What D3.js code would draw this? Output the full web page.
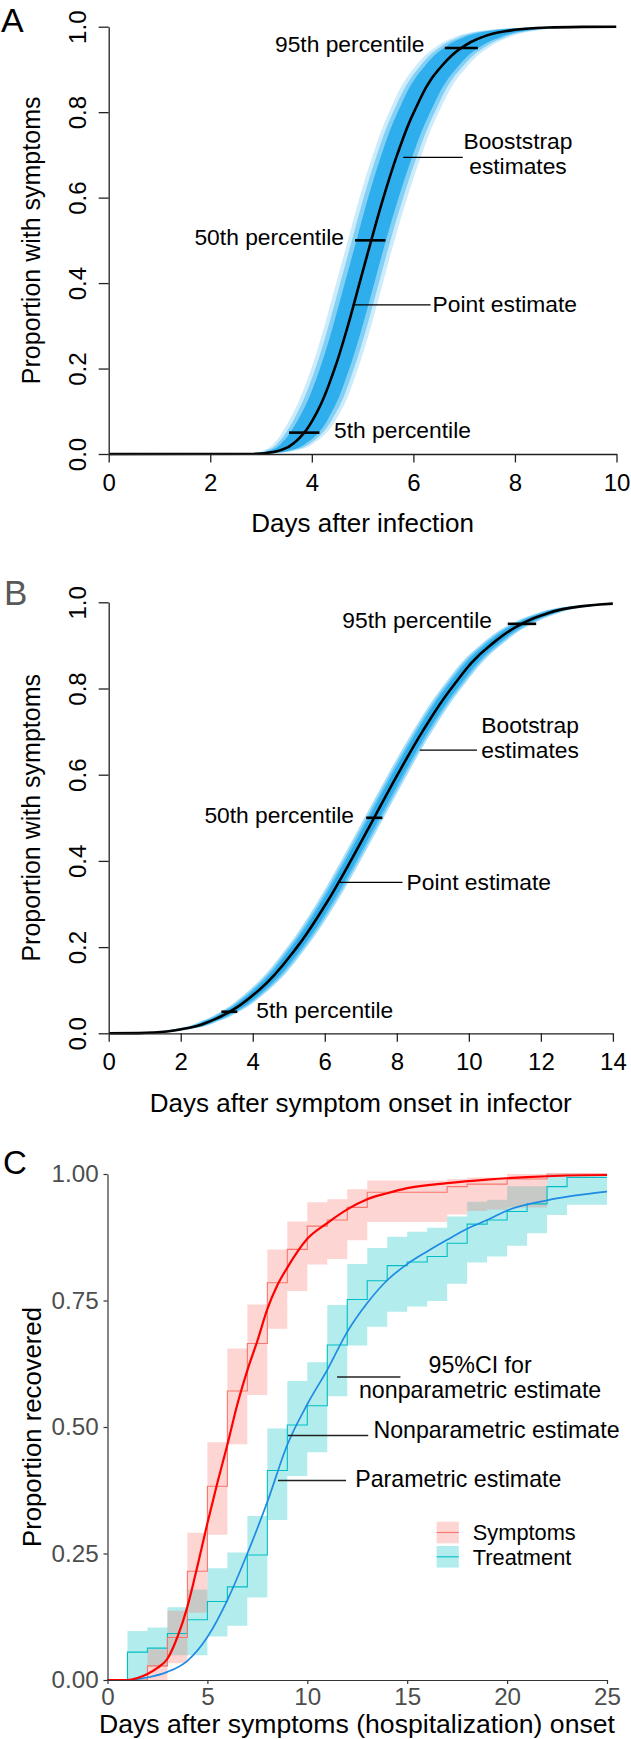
<!DOCTYPE html>
<html><head><meta charset="utf-8">
<script src="https://cdn.jsdelivr.net/npm/d3@7/dist/d3.min.js"></script>
<style>
body{margin:0;background:#fff}
svg{display:block}
text{font-family:"Liberation Sans",Arial,Helvetica,sans-serif}
</style>
</head><body>
<svg id="chart" width="631" height="1739"></svg>
<script>
// ================= DATA =================
// Panel A : incubation period (quantiles of the point-estimate CDF)
const aProb  = [0.0005,0.002,0.01,0.03,0.05,0.1,0.2,0.3,0.4,0.5,0.6,0.7,0.8,0.9,0.95,0.97,0.99,0.998,0.9995];
const aQuant = [2.87,3.09,3.41,3.69,3.85,4.11,4.45,4.71,4.94,5.17,5.41,5.68,6.01,6.50,6.94,7.24,7.84,8.65,9.32];
// half-width (days) of the bootstrap envelope at each probability
const aBandOuter = [0.16,0.24,0.34,0.40,0.44,0.46,0.46,0.46,0.46,0.46,0.47,0.48,0.49,0.51,0.53,0.54,0.54,0.44,0.30];
const aBandMid   = [0.12,0.18,0.27,0.33,0.36,0.38,0.38,0.38,0.38,0.38,0.39,0.40,0.41,0.42,0.44,0.45,0.45,0.36,0.24];
const aBandCore  = [0.08,0.13,0.20,0.25,0.28,0.29,0.29,0.29,0.29,0.29,0.30,0.31,0.32,0.33,0.34,0.35,0.35,0.28,0.18];
const aPctProb = [0.05,0.5,0.95];
const aPctLo   = [3.55,4.85,6.62];
const aPctHi   = [4.15,5.45,7.27];
const aXTicks  = [0,2,4,6,8,10];
const yTicksAB = [0,0.2,0.4,0.6,0.8,1.0];

// Panel B : serial interval
const bProb  = [0.0005,0.002,0.01,0.03,0.05,0.1,0.2,0.3,0.4,0.5,0.6,0.7,0.8,0.9,0.95,0.97,0.99,0.995,0.997];
const bQuant = [0.83,1.26,2.05,2.87,3.36,4.17,5.23,6.03,6.72,7.37,8.02,8.71,9.51,10.59,11.47,12.03,13.06,13.63,14.0];
const bBandOuter = [0.16,0.19,0.22,0.25,0.26,0.27,0.27,0.27,0.27,0.27,0.27,0.27,0.28,0.29,0.30,0.30,0.30,0.30,0.30];
const bBandMid   = [0.12,0.14,0.17,0.19,0.20,0.21,0.21,0.21,0.21,0.21,0.21,0.21,0.22,0.23,0.23,0.23,0.23,0.23,0.23];
const bBandCore  = [0.08,0.10,0.12,0.14,0.15,0.15,0.15,0.15,0.15,0.15,0.15,0.15,0.16,0.16,0.17,0.17,0.17,0.17,0.17];
const bPctProb = [0.05,0.5,0.95];
const bPctLo   = [3.13,7.15,11.08];
const bPctHi   = [3.57,7.60,11.87];
const bXTicks  = [0,2,4,6,8,10,12,14];

// Panel C : recovery (Kaplan-Meier steps, 95% CI, parametric fits)
const symDays = [2,3,4,5,6,7,8,9,10,11,12,13,17,18,19,20,22];
const symEst  = [0.028,0.084,0.215,0.383,0.571,0.665,0.785,0.851,0.897,0.909,0.934,0.964,0.975,0.980,0.980,0.990,1.000];
const symLo   = [0.000,0.033,0.133,0.287,0.466,0.563,0.694,0.769,0.821,0.832,0.869,0.905,0.920,0.927,0.930,0.934,1.000];
const symHi   = [0.061,0.137,0.291,0.470,0.655,0.742,0.851,0.906,0.944,0.950,0.970,0.987,0.990,0.993,0.993,1.000,1.000];

const trtDays = [1,2,3,4,5,6,7,8,9,10,11,12,13,14,15,16,17,18,19,20,21,22,23];
const trtEst  = [0.055,0.063,0.092,0.119,0.155,0.184,0.247,0.414,0.504,0.542,0.662,0.752,0.789,0.819,0.826,0.837,0.863,0.901,0.909,0.926,0.941,0.975,0.993];
const trtLo   = [0.000,0.026,0.049,0.049,0.086,0.107,0.163,0.316,0.403,0.450,0.561,0.661,0.698,0.728,0.738,0.749,0.783,0.825,0.837,0.858,0.883,0.919,0.939];
const trtHi   = [0.097,0.104,0.144,0.179,0.221,0.252,0.324,0.497,0.591,0.628,0.741,0.822,0.854,0.876,0.886,0.894,0.916,0.945,0.949,0.976,0.976,1.000,1.000];

const symFitDays = [0,1,1.5,2,2.5,3,3.5,4,4.5,5,5.5,6,6.5,7,7.5,8,8.5,9,10,11,12,13,14,15,17,19,21,23,25];
const symFitVal  = [0,0,0.004,0.012,0.024,0.042,0.085,0.145,0.225,0.310,0.390,0.465,0.545,0.612,0.670,0.733,0.780,0.815,0.872,0.903,0.930,0.950,0.962,0.972,0.982,0.989,0.994,0.997,0.998];
const trtFitDays = [0,1,2,3,4,5,6,7,8,9,10,11,12,13,14,15,16,17,18,19,20,22,25];
const trtFitVal  = [0,0,0.005,0.016,0.038,0.085,0.158,0.250,0.352,0.465,0.545,0.613,0.688,0.745,0.790,0.822,0.847,0.870,0.892,0.909,0.928,0.948,0.965];

const cXTicks = [0,5,10,15,20,25];
const cYTicks = [0,0.25,0.5,0.75,1.0];
const groups  = ["Symptoms","Treatment"];

// ================= DRAWING =================
const svg = d3.select("#chart");
const FONT = '"Liberation Sans", Arial, Helvetica, sans-serif';

function rPanel(o){
  const g = svg.append("g");
  const x = d3.scaleLinear().domain([0,o.xmax]).range(o.xr);
  const y = d3.scaleLinear().domain([0,1]).range(o.yr);
  const cid = "clip"+o.id;
  svg.append("clipPath").attr("id",cid).append("rect")
    .attr("x",x(0)).attr("y",y(1)-4).attr("width",x(o.xmax)-x(0)).attr("height",y(0)-y(1)+8);
  const pts = o.prob.map((p,i)=>({p, q:o.quant[i]}));
  const bands = g.append("g").attr("clip-path",`url(#${cid})`);
  o.bands.forEach(b=>{
    const area = d3.area().curve(d3.curveMonotoneY)
      .y(d=>y(d.p))
      .x0((d,i)=>x(d.q - b.s[i]))
      .x1((d,i)=>x(d.q + b.s[i]));
    bands.append("path").datum(pts).attr("d",area).attr("fill",b.c).attr("stroke","none");
  });
  // point estimate
  const linePts = [[0,0]].concat(pts.map(d=>[d.q,d.p]));
  if (o.endPt) linePts.push(o.endPt);
  const line = d3.line().curve(d3.curveMonotoneY).x(d=>x(d[0])).y(d=>y(d[1]));
  bands.append("path").datum(linePts).attr("d",line).attr("fill","none")
    .attr("stroke","#000").attr("stroke-width",2.6);
  // percentile marks
  g.selectAll(null).data(o.pctProb).enter().append("line")
    .attr("x1",(d,i)=>x(o.pctLo[i])).attr("x2",(d,i)=>x(o.pctHi[i]))
    .attr("y1",d=>y(d)).attr("y2",d=>y(d))
    .attr("stroke","#000").attr("stroke-width",2.6);
  // axes
  const ax = g.append("g").attr("transform",`translate(0,${y(0)})`)
    .call(d3.axisBottom(x).tickValues(o.xticks).tickFormat(d3.format("d")).tickSize(8.5).tickSizeOuter(0).tickPadding(11.2));
  const ay = g.append("g").attr("transform",`translate(${x(0)},0)`)
    .call(d3.axisLeft(y).tickValues(yTicksAB).tickFormat(d3.format(".1f")).tickSize(10).tickSizeOuter(0));
  [ax,ay].forEach(a=>{
    a.select(".domain").attr("stroke","#222").attr("stroke-width",1.3);
    a.selectAll(".tick line").attr("stroke","#222").attr("stroke-width",1.3);
    a.selectAll("text").attr("fill","#000").style("font-family",FONT).style("font-size","24px");
  });
  ay.selectAll(".tick text").attr("x",null).attr("dy",null).attr("text-anchor","middle")
    .attr("transform",`translate(${86-x(0)},0) rotate(-90)`);
  // titles
  g.append("text").attr("x",(o.xr[0]+o.xr[1])/2).attr("y",o.xTitleY).attr("text-anchor","middle")
    .style("font-size","26px").text(o.xTitle);
  g.append("text").attr("transform",`translate(40,${(o.yr[0]+o.yr[1])/2}) rotate(-90)`).attr("text-anchor","middle")
    .style("font-size","25px").text("Proportion with symptoms");
  // annotations
  o.notes.forEach(n=>{
    g.append("text").attr("x",x(n.x)).attr("y",y(n.y)).attr("text-anchor",n.a||"start")
      .style("font-size","22.8px").attr("fill","#000").text(n.t);
  });
  o.leaders.forEach(l=>{
    g.append("line").attr("x1",x(l[0])).attr("x2",x(l[1])).attr("y1",y(l[2])).attr("y2",y(l[2]))
      .attr("stroke","#000").attr("stroke-width",1.3);
  });
  g.append("text").attr("x",o.lab[0]).attr("y",o.lab[1]).style("font-size",o.labSize)
    .attr("fill",o.labColor).text(o.label);
}

rPanel({
  id:"A", xmax:10, xr:[108.7,616.5], yr:[454,26.7], prob:aProb, quant:aQuant, endPt:[10,1],
  bands:[{s:aBandOuter,c:"#cdecfb"},{s:aBandMid,c:"#84d0f5"},{s:aBandCore,c:"#2eaeec"}],
  pctProb:aPctProb, pctLo:aPctLo, pctHi:aPctHi, xticks:aXTicks,
  xTitle:"Days after infection", xTitleY:531.7,
  notes:[
    {t:"95th percentile", x:6.22, y:0.941, a:"end"},
    {t:"50th percentile", x:4.634, y:0.489, a:"end"},
    {t:"5th percentile", x:4.437, y:0.0374},
    {t:"Booststrap", x:8.06, y:0.714, a:"middle"},
    {t:"estimates", x:8.06, y:0.655, a:"middle"},
    {t:"Point estimate", x:6.378, y:0.333}
  ],
  leaders:[[5.80,6.973,0.694],[4.83,6.339,0.349]],
  label:"A", lab:[1,31.5], labSize:"34px", labColor:"#000"
});

rPanel({
  id:"B", xmax:14, xr:[108.7,612.9], yr:[1033.3,602.3], prob:bProb, quant:bQuant, endPt:null,
  bands:[{s:bBandOuter,c:"#aadff8"},{s:bBandMid,c:"#66c5f2"},{s:bBandCore,c:"#2eaeec"}],
  pctProb:bPctProb, pctLo:bPctLo, pctHi:bPctHi, xticks:bXTicks,
  xTitle:"Days after symptom onset in infector", xTitleY:1111.7,
  notes:[
    {t:"95th percentile", x:10.64, y:0.9397, a:"end"},
    {t:"50th percentile", x:6.81, y:0.488, a:"end"},
    {t:"5th percentile", x:4.10, y:0.0355},
    {t:"Bootstrap", x:11.70, y:0.6968, a:"middle"},
    {t:"estimates", x:11.70, y:0.6387, a:"middle"},
    {t:"Point estimate", x:8.27, y:0.3325}
  ],
  leaders:[[8.636,10.225,0.657],[6.368,8.156,0.3503]],
  label:"B", lab:[4,605], labSize:"35px", labColor:"#595959"
});

// ---------- Panel C ----------
(function(){
  const g = svg.append("g");
  const x = d3.scaleLinear().domain([0,25]).range([107.5,607]);
  const y = d3.scaleLinear().domain([0,1]).range([1680,1174]);
  const col = {Symptoms:"#F8766D", Treatment:"#00BFC4"};
  const fitCol = {Symptoms:"#FF0000", Treatment:"#1E8AE3"};
  const series = {
    Symptoms:{d:symDays,e:symEst,lo:symLo,hi:symHi,fd:symFitDays,fv:symFitVal},
    Treatment:{d:trtDays,e:trtEst,lo:trtLo,hi:trtHi,fd:trtFitDays,fv:trtFitVal}
  };
  function rows(s){
    const r = s.d.map((t,i)=>({t,e:s.e[i],lo:s.lo[i],hi:s.hi[i]}));
    const last = r[r.length-1];
    r.push({t:25,e:last.e,lo:last.lo,hi:last.hi});
    return r;
  }
  const area = d3.area().curve(d3.curveStepAfter).x(d=>x(d.t)).y0(d=>y(d.lo)).y1(d=>y(d.hi));
  ["Treatment","Symptoms"].forEach(k=>{
    g.append("path").datum(rows(series[k])).attr("d",area)
      .attr("fill",col[k]).attr("fill-opacity",0.3).attr("stroke","none");
  });
  const step = d3.line().curve(d3.curveStepAfter).x(d=>x(d.t)).y(d=>y(d.e));
  ["Treatment","Symptoms"].forEach(k=>{
    const r = [{t:0,e:0}].concat(rows(series[k]));
    g.append("path").datum(r).attr("d",step).attr("fill","none")
      .attr("stroke",col[k]).attr("stroke-width",1.1);
  });
  const fit = d3.line().curve(d3.curveMonotoneX).x(d=>x(d[0])).y(d=>y(d[1]));
  ["Treatment","Symptoms"].forEach(k=>{
    const s = series[k];
    g.append("path").datum(s.fd.map((t,i)=>[t,s.fv[i]])).attr("d",fit).attr("fill","none")
      .attr("stroke",fitCol[k]).attr("stroke-width",k==="Symptoms"?2.2:1.7);
  });
  // axes
  const ax = g.append("g").attr("transform",`translate(0,${y(0)})`)
    .call(d3.axisBottom(x).tickValues(cXTicks).tickFormat(d3.format("d")).tickSize(4).tickSizeOuter(0).tickPadding(4));
  const ay = g.append("g").attr("transform",`translate(${x(0)},0)`)
    .call(d3.axisLeft(y).tickValues(cYTicks).tickFormat(d3.format(".2f")).tickSize(4).tickSizeOuter(0).tickPadding(4.9));
  [ax,ay].forEach(a=>{
    a.select(".domain").attr("stroke","#333").attr("stroke-width",1.2);
    a.selectAll(".tick line").attr("stroke","#333").attr("stroke-width",1.2);
    a.selectAll("text").attr("fill","#4D4D4D").style("font-family",FONT).style("font-size","24.2px");
  });
  g.append("text").attr("x",357).attr("y",1733).attr("text-anchor","middle")
    .style("font-size","26.6px").text("Days after symptoms (hospitalization) onset");
  g.append("text").attr("transform",`translate(41,1427) rotate(-90)`).attr("text-anchor","middle")
    .style("font-size","25.7px").text("Proportion recovered");
  // annotations
  const notes = [
    {t:"95%CI for", x:18.65, y:0.6067, a:"middle"},
    {t:"nonparametric estimate", x:18.65, y:0.5573, a:"middle"},
    {t:"Nonparametric estimate", x:13.31, y:0.4783},
    {t:"Parametric estimate", x:12.40, y:0.382}
  ];
  notes.forEach(n=>g.append("text").attr("x",x(n.x)).attr("y",y(n.y)).attr("text-anchor",n.a||"start")
    .style("font-size","23.2px").text(n.t));
  [[11.49,14.66,0.5988],[9.03,13.05,0.4832],[8.53,11.94,0.3943]].forEach(l=>{
    g.append("line").attr("x1",x(l[0])).attr("x2",x(l[1])).attr("y1",y(l[2])).attr("y2",y(l[2]))
      .attr("stroke","#222").attr("stroke-width",1.3);
  });
  // legend
  const lg = g.append("g").attr("transform","translate(436.6,1521.7)");
  groups.forEach((k,i)=>{
    const row = lg.append("g").attr("transform",`translate(0,${i*24.3})`);
    row.append("rect").attr("width",22.2).attr("height",21.6).attr("fill",col[k]).attr("fill-opacity",0.3);
    row.append("line").attr("x1",0).attr("x2",22.2).attr("y1",10.8).attr("y2",10.8)
      .attr("stroke",col[k]).attr("stroke-width",1.1);
    row.append("text").attr("x",36.2).attr("y",18.6).style("font-size","21.8px").text(k);
  });
  g.append("text").attr("x",3).attr("y",1174).style("font-size","33px").text("C");
})();
</script>
</body></html>
